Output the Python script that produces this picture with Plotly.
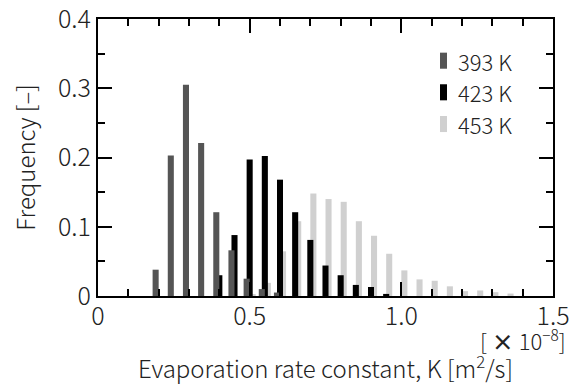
import plotly.graph_objects as go

# Bin centres (x 1e-8 m2/s)
centers = [0.15, 0.20, 0.25, 0.30, 0.35, 0.40, 0.45, 0.50, 0.55, 0.60, 0.65, 0.70,
           0.75, 0.80, 0.85, 0.90, 0.95, 1.00, 1.05, 1.10, 1.15, 1.20, 1.25, 1.30,
           1.35, 1.40]

freq_393 = [0.0, 0.038, 0.203, 0.305, 0.221, 0.121, 0.066, 0.025, 0.010, 0.005, 0.0, 0.0,
            0.0, 0.0, 0.0, 0.0, 0.0, 0.0, 0.0, 0.0, 0.0, 0.0, 0.0, 0.0,
            0.0, 0.0]
freq_423 = [0.0, 0.0, 0.0, 0.0, 0.0, 0.030, 0.088, 0.197, 0.202, 0.168, 0.121, 0.081,
            0.044, 0.030, 0.016, 0.013, 0.003, 0.0, 0.0, 0.0, 0.0, 0.0, 0.0, 0.0,
            0.0, 0.0]
freq_453 = [0.0, 0.0, 0.0, 0.0, 0.0, 0.0, 0.0, 0.002, 0.019, 0.0645, 0.108, 0.148,
            0.140, 0.136, 0.108, 0.087, 0.061, 0.037, 0.024, 0.022, 0.014, 0.007, 0.008, 0.0055,
            0.0035, 0.0]

series_names = ["393 K", "423 K", "453 K"]
series_colors = ["#555555", "#000000", "#d0d0d0"]

x_tickvals = [0, 0.5, 1.0, 1.5]
x_ticktext = ["0", "0.5", "1.0", "1.5"]
y_tickvals = [0, 0.1, 0.2, 0.3, 0.4]
y_ticktext = ["0", "0.1", "0.2", "0.3", "0.4"]

FONT = "Noto Sans CJK JP"
TXT = "#222222"
W = 300

fig = go.Figure()
# draw order: 453 K (back), 423 K, 393 K (front)
fig.add_trace(go.Bar(x=centers, y=freq_453, name=series_names[2], width=0.02, offset=0.0,
                     marker=dict(color=series_colors[2], line=dict(width=0)), showlegend=False))
fig.add_trace(go.Bar(x=centers, y=freq_423, name=series_names[1], width=0.02, offset=-0.01,
                     marker=dict(color=series_colors[1], line=dict(width=0)), showlegend=False))
fig.add_trace(go.Bar(x=centers, y=freq_393, name=series_names[0], width=0.02, offset=-0.02,
                     marker=dict(color=series_colors[0], line=dict(width=0)), showlegend=False))

axis_common = dict(
    showline=True, linewidth=2, linecolor="black", mirror="allticks",
    ticks="inside", ticklen=14, tickwidth=2, tickcolor="black",
    showgrid=False, zeroline=False, ticklabeloverflow="allow", automargin=False,
    tickfont=dict(family=FONT, size=25, color=TXT, weight=W),
)

fig.update_xaxes(
    range=[0, 1.5], tickvals=x_tickvals, ticktext=x_ticktext,
    minor=dict(ticks="inside", ticklen=7, tickwidth=2, tickcolor="black", dtick=0.1, showgrid=False),
    title=dict(text="Evaporation rate constant, K [m<sup>2</sup>/s]",
               font=dict(family=FONT, size=24, color=TXT, weight=W), standoff=32),
    ticklabelstandoff=-3,
    **axis_common,
)
fig.update_yaxes(
    range=[0, 0.4], tickvals=y_tickvals, ticktext=y_ticktext,
    minor=dict(ticks="inside", ticklen=7, tickwidth=2, tickcolor="black", dtick=0.05, showgrid=False),
    title=dict(text="Frequency [\u2013]",
               font=dict(family=FONT, size=24, color=TXT, weight=W), standoff=16),
    **axis_common,
)

# custom legend (tall thin swatches)
legend_rows = [0.8495, 0.7354, 0.6209]
shapes = []
annotations = []
for name, col, yc in zip(series_names, series_colors, legend_rows):
    shapes.append(dict(type="rect", xref="paper", yref="paper",
                       x0=0.7516, x1=0.767, y0=yc - 0.029, y1=yc + 0.029,
                       fillcolor=col, line=dict(width=0)))
    annotations.append(dict(xref="paper", yref="paper", x=0.787, y=yc, xanchor="left",
                            yanchor="middle", showarrow=False, text=name,
                            font=dict(family=FONT, size=22, color=TXT, weight=W)))

annotations.append(dict(xref="paper", yref="paper", x=1.033, y=-0.158, xanchor="right",
                        yanchor="middle", showarrow=False,
                        text="[ <b>\u00d7</b> 10<sup>\u22128</sup>]",
                        font=dict(family=FONT, size=22, color=TXT, weight=W)))

fig.update_layout(
    width=574, height=385,
    margin=dict(l=98, r=21, t=19, b=89, autoexpand=False),
    barmode="overlay",
    plot_bgcolor="white", paper_bgcolor="white",
    shapes=shapes, annotations=annotations,
    showlegend=False,
)

fig.write_html("out.html")
